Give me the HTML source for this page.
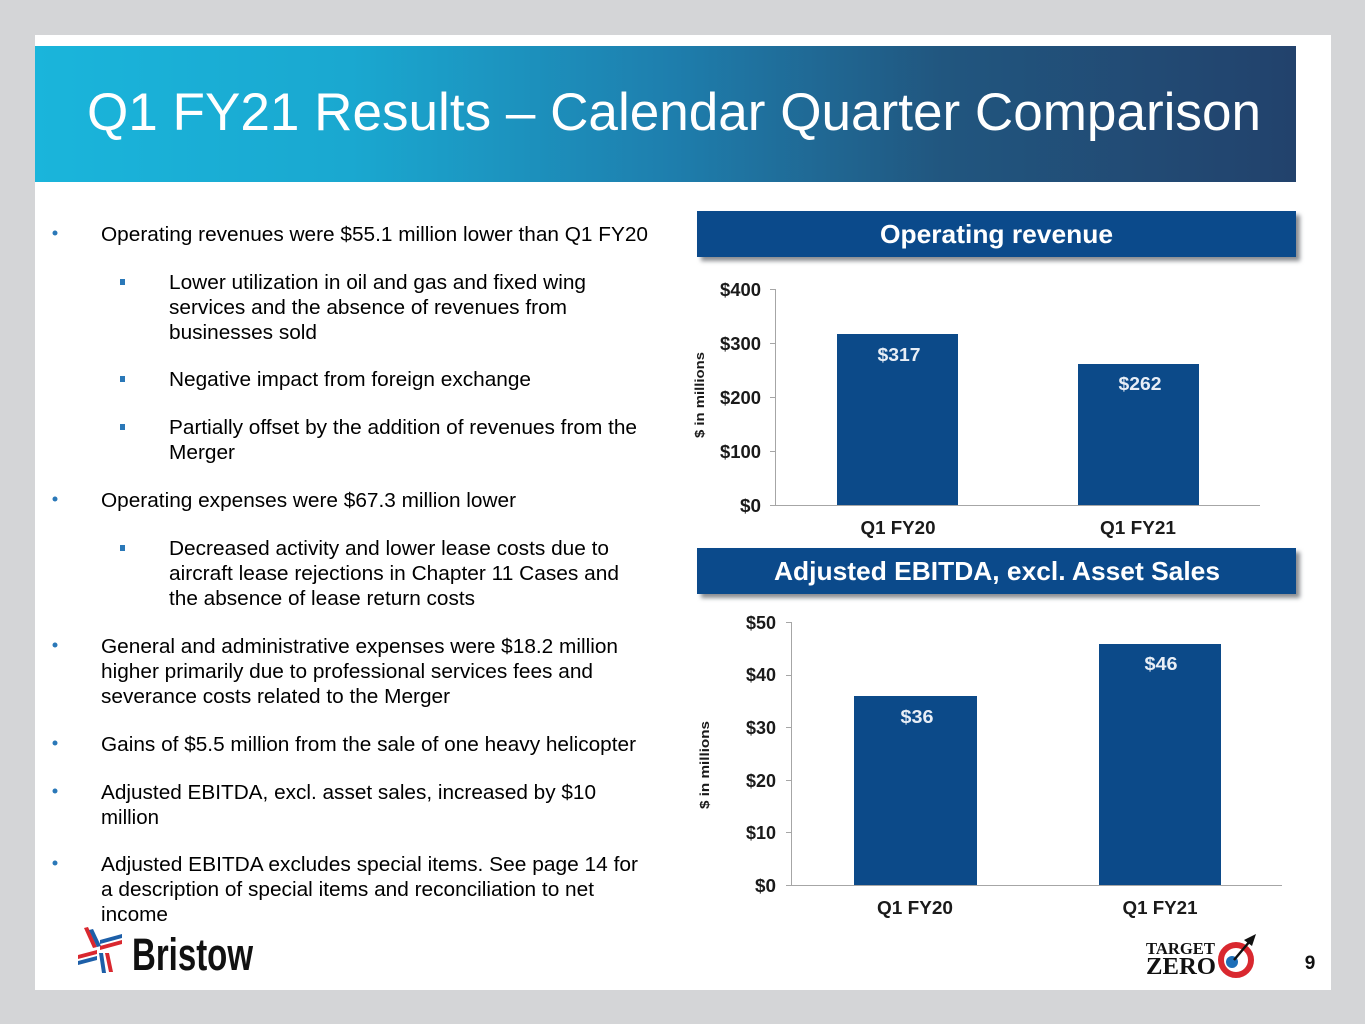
<!DOCTYPE html>
<html><head><meta charset="utf-8"><style>
html,body{margin:0;padding:0;background:#d4d5d7;}
svg{display:block;}
</style></head><body>
<svg width="1365" height="1024" viewBox="0 0 1365 1024" xmlns="http://www.w3.org/2000/svg" font-family="'Liberation Sans', Arial, sans-serif">
<defs>
<linearGradient id="hg" x1="0" y1="0" x2="1" y2="0">
<stop offset="0" stop-color="#1ab5db"/>
<stop offset="0.25" stop-color="#1aa8d0"/>
<stop offset="0.5" stop-color="#1e7fae"/>
<stop offset="0.72" stop-color="#21567f"/>
<stop offset="1" stop-color="#22426c"/>
</linearGradient>
<filter id="sh" x="-5%" y="-20%" width="110%" height="160%"><feGaussianBlur stdDeviation="2"/></filter>
</defs>
<rect width="1365" height="1024" fill="#d4d5d7"/>
<rect x="35" y="35" width="1296" height="955" fill="#ffffff"/>
<rect x="35" y="46" width="1261" height="136" fill="url(#hg)"/>
<text x="87" y="130" font-size="53" fill="#ffffff" textLength="1174" lengthAdjust="spacingAndGlyphs">Q1 FY21 Results – Calendar Quarter Comparison</text>

<!-- bullets -->
<g fill="#2a78b8">
<circle cx="55" cy="233" r="2.5"/><circle cx="55" cy="499" r="2.5"/><circle cx="55" cy="645" r="2.5"/><circle cx="55" cy="743" r="2.5"/><circle cx="55" cy="791" r="2.5"/><circle cx="55" cy="863" r="2.5"/>
<rect x="120" y="279" width="5" height="6"/><rect x="120" y="376" width="5" height="6"/><rect x="120" y="424" width="5" height="6"/><rect x="120" y="545" width="5" height="6"/>
</g>
<g font-size="20" fill="#000">
<text x="101" y="241" textLength="547" lengthAdjust="spacingAndGlyphs">Operating revenues were $55.1 million lower than Q1 FY20</text>
<text x="169" y="289" textLength="417" lengthAdjust="spacingAndGlyphs">Lower utilization in oil and gas and fixed wing</text>
<text x="169" y="314" textLength="398" lengthAdjust="spacingAndGlyphs">services and the absence of revenues from</text>
<text x="169" y="339" textLength="148" lengthAdjust="spacingAndGlyphs">businesses sold</text>
<text x="169" y="386" textLength="362" lengthAdjust="spacingAndGlyphs">Negative impact from foreign exchange</text>
<text x="169" y="434" textLength="468" lengthAdjust="spacingAndGlyphs">Partially offset by the addition of revenues from the</text>
<text x="169" y="459" textLength="66" lengthAdjust="spacingAndGlyphs">Merger</text>
<text x="101" y="507" textLength="415" lengthAdjust="spacingAndGlyphs">Operating expenses were $67.3 million lower</text>
<text x="169" y="555" textLength="440" lengthAdjust="spacingAndGlyphs">Decreased activity and lower lease costs due to</text>
<text x="169" y="580" textLength="450" lengthAdjust="spacingAndGlyphs">aircraft lease rejections in Chapter 11 Cases and</text>
<text x="169" y="605" textLength="306" lengthAdjust="spacingAndGlyphs">the absence of lease return costs</text>
<text x="101" y="653" textLength="517" lengthAdjust="spacingAndGlyphs">General and administrative expenses were $18.2 million</text>
<text x="101" y="678" textLength="492" lengthAdjust="spacingAndGlyphs">higher primarily due to professional services fees and</text>
<text x="101" y="703" textLength="349" lengthAdjust="spacingAndGlyphs">severance costs related to the Merger</text>
<text x="101" y="751" textLength="535" lengthAdjust="spacingAndGlyphs">Gains of $5.5 million from the sale of one heavy helicopter</text>
<text x="101" y="799" textLength="495" lengthAdjust="spacingAndGlyphs">Adjusted EBITDA, excl. asset sales, increased by $10</text>
<text x="101" y="824" textLength="58" lengthAdjust="spacingAndGlyphs">million</text>
<text x="101" y="871" textLength="537" lengthAdjust="spacingAndGlyphs">Adjusted EBITDA excludes special items. See page 14 for</text>
<text x="101" y="896" textLength="493" lengthAdjust="spacingAndGlyphs">a description of special items and reconciliation to net</text>
<text x="101" y="921" textLength="67" lengthAdjust="spacingAndGlyphs">income</text>
</g>

<!-- chart 1 header -->
<rect x="701" y="215" width="599" height="46" fill="#8a8d92" filter="url(#sh)"/>
<rect x="697" y="211" width="599" height="46" fill="#0b4a8b"/>
<text x="996.5" y="243" font-size="26" font-weight="bold" fill="#fff" text-anchor="middle" textLength="233" lengthAdjust="spacingAndGlyphs">Operating revenue</text>

<!-- chart 1 -->
<g stroke="#a6a6a6" stroke-width="1">
<line x1="775.5" y1="289" x2="775.5" y2="505"/>
<line x1="775" y1="505.5" x2="1260" y2="505.5"/>
<line x1="770" y1="289.5" x2="775" y2="289.5"/>
<line x1="770" y1="343.5" x2="775" y2="343.5"/>
<line x1="770" y1="397.5" x2="775" y2="397.5"/>
<line x1="770" y1="451.5" x2="775" y2="451.5"/>
<line x1="770" y1="505.5" x2="775" y2="505.5"/>
</g>
<g font-size="18" font-weight="bold" fill="#1a1a1a" text-anchor="end">
<text x="761" y="296" textLength="41" lengthAdjust="spacingAndGlyphs">$400</text>
<text x="761" y="350" textLength="41" lengthAdjust="spacingAndGlyphs">$300</text>
<text x="761" y="404" textLength="41" lengthAdjust="spacingAndGlyphs">$200</text>
<text x="761" y="458" textLength="41" lengthAdjust="spacingAndGlyphs">$100</text>
<text x="761" y="512" textLength="21" lengthAdjust="spacingAndGlyphs">$0</text>
</g>
<text transform="translate(704,395) rotate(-90)" font-size="13" font-weight="bold" fill="#1a1a1a" text-anchor="middle" textLength="86" lengthAdjust="spacingAndGlyphs">$ in millions</text>
<rect x="837" y="334" width="121" height="171" fill="#0c4a89"/>
<rect x="1078" y="364" width="121" height="141" fill="#0c4a89"/>
<g font-size="18" font-weight="bold" fill="#e8eef6" text-anchor="middle">
<text x="899" y="361" textLength="43" lengthAdjust="spacingAndGlyphs">$317</text>
<text x="1140" y="390" textLength="43" lengthAdjust="spacingAndGlyphs">$262</text>
</g>
<g font-size="18" font-weight="bold" fill="#1a1a1a" text-anchor="middle">
<text x="898" y="534" textLength="75" lengthAdjust="spacingAndGlyphs">Q1 FY20</text>
<text x="1138" y="534" textLength="76" lengthAdjust="spacingAndGlyphs">Q1 FY21</text>
</g>

<!-- chart 2 header -->
<rect x="701" y="552" width="599" height="46" fill="#8a8d92" filter="url(#sh)"/>
<rect x="697" y="548" width="599" height="46" fill="#0b4a8b"/>
<text x="997" y="580" font-size="26" font-weight="bold" fill="#fff" text-anchor="middle" textLength="446" lengthAdjust="spacingAndGlyphs">Adjusted EBITDA, excl. Asset Sales</text>

<!-- chart 2 -->
<g stroke="#a6a6a6" stroke-width="1">
<line x1="791.5" y1="622" x2="791.5" y2="885"/>
<line x1="791" y1="885.5" x2="1282" y2="885.5"/>
<line x1="786" y1="622.5" x2="791" y2="622.5"/>
<line x1="786" y1="675.5" x2="791" y2="675.5"/>
<line x1="786" y1="727.5" x2="791" y2="727.5"/>
<line x1="786" y1="780.5" x2="791" y2="780.5"/>
<line x1="786" y1="832.5" x2="791" y2="832.5"/>
<line x1="786" y1="885.5" x2="791" y2="885.5"/>
</g>
<g font-size="18" font-weight="bold" fill="#1a1a1a" text-anchor="end">
<text x="776" y="629" textLength="30" lengthAdjust="spacingAndGlyphs">$50</text>
<text x="776" y="681" textLength="30" lengthAdjust="spacingAndGlyphs">$40</text>
<text x="776" y="734" textLength="30" lengthAdjust="spacingAndGlyphs">$30</text>
<text x="776" y="787" textLength="30" lengthAdjust="spacingAndGlyphs">$20</text>
<text x="776" y="839" textLength="30" lengthAdjust="spacingAndGlyphs">$10</text>
<text x="776" y="892" textLength="21" lengthAdjust="spacingAndGlyphs">$0</text>
</g>
<text transform="translate(709,765) rotate(-90)" font-size="13" font-weight="bold" fill="#1a1a1a" text-anchor="middle" textLength="88" lengthAdjust="spacingAndGlyphs">$ in millions</text>
<rect x="854" y="696" width="123" height="189" fill="#0c4a89"/>
<rect x="1099" y="644" width="122" height="241" fill="#0c4a89"/>
<g font-size="18" font-weight="bold" fill="#e8eef6" text-anchor="middle">
<text x="917" y="723" textLength="33" lengthAdjust="spacingAndGlyphs">$36</text>
<text x="1161" y="670" textLength="33" lengthAdjust="spacingAndGlyphs">$46</text>
</g>
<g font-size="18" font-weight="bold" fill="#1a1a1a" text-anchor="middle">
<text x="915" y="914" textLength="76" lengthAdjust="spacingAndGlyphs">Q1 FY20</text>
<text x="1160" y="914" textLength="75" lengthAdjust="spacingAndGlyphs">Q1 FY21</text>
</g>

<!-- Bristow logo -->
<g>
<polygon points="84,928 88,927 97,947 93,948" fill="#d9282f"/>
<polygon points="89,930 93,929 101,946 97,947" fill="#1d5fa8"/>
<polygon points="100,940 122,934 122,938 100,944" fill="#1d5fa8"/>
<polygon points="100,946 122,940 122,944 100,950" fill="#d9282f"/>
<polygon points="78,955 97,950 97,954 78,959" fill="#d9282f"/>
<polygon points="78,961 97,956 97,960 78,965" fill="#1d5fa8"/>
<polygon points="99,953 103,953 106,973 102,973" fill="#1d5fa8"/>
<polygon points="105,953 109,953 113,972 109,972" fill="#d9282f"/>
</g>
<text x="132" y="970" font-size="45" font-weight="bold" fill="#111" textLength="121" lengthAdjust="spacingAndGlyphs">Bristow</text>

<!-- Target Zero logo -->
<text x="1146" y="954" font-family="'Liberation Serif', serif" font-size="17" font-weight="bold" fill="#111" textLength="69" lengthAdjust="spacingAndGlyphs">TARGET</text>
<text x="1146" y="974" font-family="'Liberation Serif', serif" font-size="24" font-weight="bold" fill="#111" textLength="70" lengthAdjust="spacingAndGlyphs">ZERO</text>
<circle cx="1236" cy="960" r="15" fill="none" stroke="#d9282f" stroke-width="6"/>
<circle cx="1232" cy="962" r="6" fill="#1d6fb8"/>
<line x1="1234" y1="960" x2="1250" y2="941" stroke="#111" stroke-width="2.5"/>
<polygon points="1244,940 1256,934 1252,946" fill="#111"/>

<text x="1310" y="969" font-size="19" font-weight="bold" fill="#111" text-anchor="middle">9</text>
</svg>
</body></html>
